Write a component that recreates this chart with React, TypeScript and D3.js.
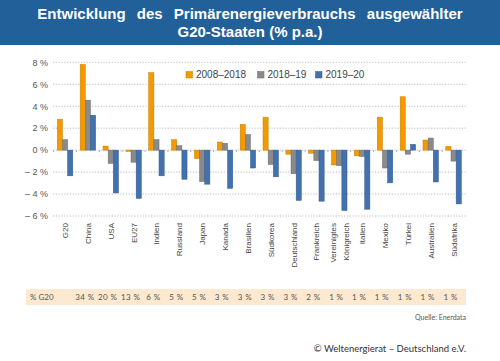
import React from 'react';
import * as d3 from 'd3';

const countries = ['G20', 'China', 'USA', 'EU27', 'Indien', 'Russland', 'Japan', 'Kanada', 'Brasilien', 'Südkorea', 'Deutschland', 'Frankreich', 'Vereinigtes\nKönigreich', 'Italien', 'Mexiko', 'Türkei', 'Australien', 'Südafrika'];
const seriesNames = ['2008–2018', '2018–19', '2019–20'];
const s2008 = [2.8, 7.8, 0.37, -0.12, 7.05, 0.95, -0.77, 0.74, 2.34, 3.0, -0.37, -0.28, -1.35, -0.52, 3.0, 4.86, 0.92, 0.34];
const s2018 = [0.95, 4.55, -1.2, -1.1, 0.95, 0.4, -2.86, 0.62, 1.42, -1.3, -2.15, -0.95, -1.42, -0.58, -1.63, -0.37, 1.1, -1.0];
const s2019 = [-2.34, 3.17, -3.9, -4.4, -2.34, -2.65, -3.1, -3.48, -1.63, -2.43, -4.58, -4.65, -5.5, -5.38, -2.98, 0.52, -2.9, -4.9];
const shareG20 = ['', '34 %', '20 %', '13 %', '6 %', '5 %', '5 %', '3 %', '3 %', '3 %', '3 %', '2 %', '1 %', '1 %', '1 %', '1 %', '1 %', '1 %'];
const yTicks = [8, 6, 4, 2, 0, -2, -4, -6];

const colors = ['#f39a00', '#8a8a8a', '#4271ad'];
const strokes = ['#c47c00', '#6a6a6a', '#2f5a8f'];

export default function App() {
  const width = 500;
  const height = 361;
  const x = d3.scaleBand().domain(countries).range([53.6, 465]);
  const inner = d3.scaleBand().domain(seriesNames).range([3.7, x.bandwidth() - 3.7]);
  const y = d3.scaleLinear().domain([-6, 8]).range([216, 62.3]);
  const all = [s2008, s2018, s2019];
  const fmt = (v: number) => (v < 0 ? '– ' + Math.abs(v) + ' %' : v + ' %');
  const font = '"Liberation Sans", Arial, sans-serif';
  const font2 = 'Lato, "Open Sans", sans-serif';

  return (
    <div style={{ position: 'fixed', left: 0, top: 0 }}>
      <svg width={width} height={height} style={{ display: 'block', background: '#fff' }}>
        <rect x={0} y={0} width={width} height={45} fill="#22609a" />
        <text x={250} y={19} textAnchor="middle" fill="#fff" fontFamily={font} fontWeight="bold" fontSize={15} wordSpacing={7}>
          Entwicklung des Primärenergieverbrauchs ausgewählter
        </text>
        <text x={250} y={37} textAnchor="middle" fill="#fff" fontFamily={font} fontWeight="bold" fontSize={15}>
          G20-Staaten (% p.a.)
        </text>

        {yTicks.map(t => (
          <g key={t}>
            <line x1={53} x2={466} y1={y(t)} y2={y(t)} stroke="#aaa" strokeWidth={0.8} strokeDasharray="1.2,1.6" />
            <text x={48} y={y(t) + 3.3} textAnchor="end" fontFamily={font} fontSize={9} fill="#555">
              {fmt(t)}
            </text>
          </g>
        ))}
        {countries.map((c, i) => (
          <line key={'tk' + i} x1={x(c)!} x2={x(c)!} y1={y(0)} y2={y(0) + 2} stroke="#999" strokeWidth={0.8} />
        ))}

        {countries.map((c, i) => (
          <g key={c} transform={`translate(${x(c)},0)`}>
            {all.map((s, k) => {
              const v = s[i];
              return (
                <rect
                  key={k}
                  x={inner(seriesNames[k])!}
                  y={Math.min(y(v), y(0))}
                  width={inner.bandwidth()}
                  height={Math.abs(y(v) - y(0))}
                  fill={colors[k]}
                  stroke={strokes[k]}
                  strokeWidth={0.5}
                />
              );
            })}
          </g>
        ))}

        {countries.map(c => {
          const lines = c.split('\n');
          const cx = x(c)! + x.bandwidth() / 2;
          return lines.map((ln, j) => {
            const lx = cx + (j - (lines.length - 1) / 2) * 12.5 + 3;
            return (
              <text key={c + j} transform={`translate(${lx},223) rotate(-90)`} textAnchor="end" fontFamily={font} fontSize={8} fill="#444">
                {ln}
              </text>
            );
          });
        })}

        {seriesNames.map((n, k) => {
          const lx = [186, 257.5, 315.5][k];
          return (
            <g key={n}>
              <rect x={lx} y={71.5} width={6.5} height={6.5} fill={colors[k]} stroke={strokes[k]} strokeWidth={0.5} />
              <text x={lx + 10} y={78} fontFamily={font} fontSize={10} fill="#444">{n}</text>
            </g>
          );
        })}

        <rect x={26} y={289} width={440} height={16} fill="#fde8d0" />
        <text x={30} y={300} fontFamily={font2} fontSize={8} fill="#555">% G20</text>
        {countries.map((c, i) => (
          <text key={'sh' + i} x={x(c)! + x.bandwidth() / 2 - 3} y={300} textAnchor="middle" fontFamily={font2} fontSize={8} letterSpacing={0.4} fill="#555">
            {shareG20[i]}
          </text>
        ))}

        <text x={466} y={320} textAnchor="end" fontFamily={font2} fontSize={7} fill="#555">Quelle: Enerdata</text>
        <text x={466} y={352} textAnchor="end" fontFamily={font2} fontSize={9.5} fill="#333">© Weltenergierat – Deutschland e.V.</text>
      </svg>
    </div>
  );
}
